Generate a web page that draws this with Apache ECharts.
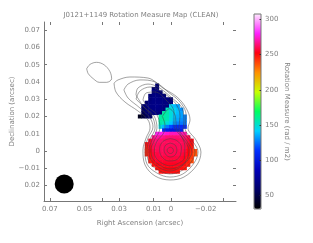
<!DOCTYPE html>
<html>
<head>
<meta charset="utf-8">
<style>html,body{margin:0;padding:0;background:#fff}#c{width:313px;height:243px}</style>
<script src="https://cdn.jsdelivr.net/npm/echarts@6/dist/echarts.min.js"></script>
</head>
<body>
<div id="c"></div>
<script>
var titleText = 'J0121+1149 Rotation Measure Map (CLEAN)';
var xTickValues = [0.07, 0.04, 0.03, 0.01, 0, -0.03];
var xLabelValues = [0.07, 0.05, 0.03, 0.01, 0, -0.02];
var xLabelTexts = ['0.07', '0.05', '0.03', '0.01', '0', '\u22120.02'];
var yTickValues = [0.07, 0.05, 0.03, 0.02, 0, -0.01, -0.02];
var yLabelValues = [0.07, 0.06, 0.05, 0.04, 0.03, 0.02, 0.01, 0, -0.01, -0.02];
var yLabelTexts = ['0.07', '0.06', '0.05', '0.04', '0.03', '0.02', '0.01', '0', '\u22120.01', '0.02'];
var barLabelValues = [50, 100, 150, 200, 250, 300];
var barTickValues = [50, 100, 150, 200, 250, 300];
var beam = [0.0617, -0.0191];
var blob = [[48.7,47.7],[46.8,50.2],[43,51.4],[38.7,50],[35.3,46.1],[34.3,41.9],[37.2,39.8],[41.4,39.8],[44.9,41.9],[47.8,44.8],[48.7,47.7]];
var level1 = [[32.9,39.4],[30.6,41.2],[23.7,42.9],[13.3,42.3],[4.6,36.5],[-3.5,31.3],[-8.7,24.9],[-11,18],[-9.8,13.3],[-14.4,6.4],[-17.3,-0.6],[-15,-8.1],[-7.5,-15.1],[0.6,-16.8],[9.2,-14.5],[15,-8.1],[16.2,0.6],[14.4,7.5],[12.1,13.3],[13.3,18],[19.1,23.2],[26.6,28.4],[31.8,34.2],[32.9,39.4]];
var level2 = [[27.2,35.4],[24.8,38.8],[17.9,41.2],[9.2,40],[1.7,34.2],[-5.2,28.4],[-8.7,20.9],[-8.1,13.3],[-12.1,6.4],[-15.6,-0.6],[-13.3,-7],[-6.9,-13.3],[0.6,-15.1],[8.1,-12.8],[13.9,-7.5],[15,0.6],[13.3,7.5],[10.4,13.9],[12.1,19.1],[17.9,24.9],[24.8,30.7],[27.2,35.4]];
var level3 = [[20.2,32.5],[19.1,36.5],[13.3,38.8],[7.5,37.1],[-0.6,30.7],[-6.4,24.9],[-7.5,16.8],[-6.9,12.2],[-11,5.8],[-13.9,-0.6],[-11.6,-6.4],[-5.8,-11.6],[0.6,-13.3],[7.5,-11],[12.7,-6.4],[13.9,0.6],[12.1,7],[9.2,13.3],[11,20.3],[16.2,26.1],[20.2,32.5]];
var level4 = [[20.2,30.1],[17.9,34.8],[12.1,37.1],[3.5,33],[-2.9,27.2],[-5.2,20.3],[-4.6,13.3],[-8.7,6.4],[-12.1,-0.6],[-9.8,-5.2],[-4.6,-9.9],[0.6,-11.6],[6.4,-9.9],[11.6,-5.2],[12.7,0.6],[11,6.4],[8.1,13.3],[9.8,20.3],[15,24.9],[20.2,30.1]];
var level5 = [[16.2,29.6],[14.4,33.6],[9.2,34.2],[2.9,29.6],[-1.7,22.6],[-1.7,15.1],[-7.5,6.4],[-10.4,0.6],[-8.7,-5.8],[-4,-9.3],[0.6,-10.4],[5.8,-8.7],[10.4,-4.6],[11.6,0.6],[9.8,5.8],[6.4,13.3],[8.1,20.9],[13.3,25.5],[16.2,29.6]];
var level6 = [[5,20],[1,24.5],[-2.6,20],[-3,14],[-5.5,9.5],[-8,3],[-7.8,-4],[-3.5,-7.5],[0.4,-8.6],[5,-7.2],[9,-3.5],[9.6,0.6],[8,5.8],[4.2,10.5],[3.5,15],[5,20]];
var level7 = [[0.4,7.2],[4.6,5.6],[6.6,1.4],[5.6,-3],[1.5,-5.8],[-2.8,-5.3],[-5.6,-2],[-6,2.4],[-3.4,6],[0.4,7.2]];
var level8 = [[0.4,4.6],[3.1,3.4],[4,0.6],[2.8,-2.3],[0.4,-3.5],[-2.2,-2.5],[-3.4,0.4],[-2.4,3.4],[0.4,4.6]];
var level9 = [[0.4,2.2],[1.9,1.4],[2.2,0.2],[1.6,-1],[0.3,-1.5],[-1,-0.9],[-1.4,0.4],[-0.9,1.6],[0.4,2.2]];
var contours = [blob, level1, level2, level3, level4, level5, level6, level7, level8, level9];
var _ = null;
var rmRa = [18, 16, 14, 12, 10, 8, 6, 4, 2, 0, -2, -4, -6, -8, -10, -12, -14];
var rmDec = [38, 36, 34, 32, 30, 28, 26, 24, 22, 20, 18, 16, 14, 12, 10, 8, 6, 4, 2, 0, -2, -4, -6, -8, -10, -12];
var rmValues = [
  [_,_,_,_,_,60,_,_,_,_,_,_,_,_,_,_,_],
  [_,_,_,_,62,62,_,_,_,_,_,_,_,_,_,_,_],
  [_,_,_,_,64,64,62,_,_,_,_,_,_,_,_,_,_],
  [_,_,_,62,66,66,64,62,_,_,_,_,_,_,_,_,_],
  [_,_,_,64,68,68,66,66,64,60,_,_,_,_,_,_,_],
  [_,_,60,66,68,68,68,66,66,62,_,_,_,_,_,_,_],
  [_,60,64,68,68,70,68,66,64,143,138,133,_,_,_,_,_],
  [_,56,62,66,68,68,68,64,153,148,143,138,130,_,_,_,_],
  [_,52,60,64,66,66,62,158,156,148,143,138,133,_,_,_,_],
  [38,46,54,58,_,_,158,158,155,148,140,136,133,128,_,_,_],
  [_,_,_,_,_,_,158,158,154,146,138,134,130,128,_,_,_],
  [_,_,_,_,_,_,156,154,148,140,133,128,126,126,_,_,_],
  [_,_,_,_,_,_,146,136,126,118,112,110,110,112,_,_,_],
  [_,_,_,_,_,_,_,108,102,100,100,102,104,_,_,_,_],
  [_,_,_,_,_,278,278,276,274,272,272,272,272,270,_,_,_],
  [_,_,_,_,266,270,268,266,264,264,264,264,264,264,260,_,_],
  [_,_,_,256,262,264,263,262,261,261,261,261,261,261,258,252,_],
  [_,_,250,256,261,262,261,261,261,261,261,261,261,260,256,250,_],
  [_,_,248,254,260,261,261,261,261,260,260,261,260,260,254,248,_],
  [_,_,246,252,258,260,261,261,260,260,260,260,260,258,252,246,238],
  [_,_,246,250,256,258,260,260,260,260,260,260,258,256,252,244,236],
  [_,_,_,250,256,258,258,258,258,258,258,258,256,254,250,242,_],
  [_,_,_,247,252,256,256,256,256,256,256,256,254,252,248,238,_],
  [_,_,_,_,249,252,254,254,254,254,254,254,252,250,246,_,_],
  [_,_,_,_,_,249,250,252,252,252,252,250,250,248,_,_,_],
  [_,_,_,_,_,_,249,250,250,250,250,249,_,_,_,_,_]
];
var raMin = -0.03755, raMax = 0.07337, decMin = -0.02899, decMax = 0.07478;
var barMin = 30, barMax = 308;
var barColors = ['#000000','#000068','#0000b8','#0030ff','#00d0ff','#00ff60','#c8ff00','#ff9000','#ff0010','#ff20ff','#ffe8ff'];
var inkColor = '#808080', lineColor = '#777777', fontName = 'DejaVu Sans';
var cells = [];
rmDec.forEach(function (d, i) {
  rmRa.forEach(function (r, j) {
    var v = rmValues[i][j];
    if (v !== null) cells.push([r / 1000, d / 1000, v]);
  });
});
function lookup(values, texts) {
  return function (v) {
    for (var i = 0; i < values.length; i++) if (Math.abs(values[i] - v) < 1e-6) return texts[i];
    return '';
  };
}
var series = [{
  type: 'scatter', xAxisIndex: 0, yAxisIndex: 0, data: cells,
  symbol: 'rect', symbolSize: 4, z: 2, silent: true, itemStyle: { opacity: 1 }
}];
contours.forEach(function (c) {
  series.push({
    type: 'line', xAxisIndex: 0, yAxisIndex: 0, z: 3, silent: true, showSymbol: false,
    smooth: 0.35, symbol: 'none',
    lineStyle: { color: '#444444', width: 0.5 },
    data: c.map(function (p) { return [p[0] / 1000, p[1] / 1000]; })
  });
});
series.push({
  type: 'scatter', xAxisIndex: 0, yAxisIndex: 0, z: 4, silent: true,
  data: [beam], symbol: 'circle', symbolSize: 19, itemStyle: { color: '#000000', opacity: 1 }
});
var chart = echarts.init(document.getElementById('c'), null, { renderer: 'canvas' });
chart.setOption({
  animation: false,
  backgroundColor: '#ffffff',
  title: {
    text: titleText, left: 141, top: 12, textAlign: 'center', padding: 0,
    textStyle: { color: inkColor, fontFamily: fontName, fontSize: 7, fontWeight: 'normal' }
  },
  grid: [
    { left: 44, top: 22, width: 192, height: 179, outerBoundsMode: 'none' },
    { left: 254, top: 14, width: 7, height: 195, outerBoundsMode: 'none', show: true, borderColor: lineColor, borderWidth: 1, backgroundColor: 'transparent', z: 8 }
  ],
  xAxis: [
    { type: 'value', gridIndex: 0, position: 'bottom', inverse: true, min: raMin, max: raMax, splitLine: { show: false },
      axisLine: { show: true, onZero: false, lineStyle: { color: lineColor, width: 1 } },
      axisTick: { show: true, inside: true, length: 3, customValues: xTickValues, lineStyle: { color: lineColor, width: 1 } },
      axisLabel: { show: true, customValues: xLabelValues, formatter: lookup(xLabelValues, xLabelTexts), margin: 5, color: inkColor, fontFamily: fontName, fontSize: 7 },
      name: 'Right Ascension (arcsec)', nameLocation: 'middle', nameGap: 19, nameMoveOverlap: false,
      nameTextStyle: { color: inkColor, fontFamily: fontName, fontSize: 7 } },
    { type: 'value', gridIndex: 0, position: 'top', inverse: true, min: raMin, max: raMax, splitLine: { show: false },
      axisLine: { show: false, onZero: false },
      axisTick: { show: true, inside: true, length: 3, customValues: xTickValues, lineStyle: { color: lineColor, width: 1 } },
      axisLabel: { show: false } },
    { type: 'value', gridIndex: 1, min: 0, max: 1, show: false }
  ],
  yAxis: [
    { type: 'value', gridIndex: 0, position: 'left', min: decMin, max: decMax, splitLine: { show: false },
      axisLine: { show: true, onZero: false, lineStyle: { color: lineColor, width: 1 } },
      axisTick: { show: true, inside: true, length: 3, customValues: yTickValues, lineStyle: { color: lineColor, width: 1 } },
      axisLabel: { show: true, customValues: yLabelValues, formatter: lookup(yLabelValues, yLabelTexts), margin: 4, color: inkColor, fontFamily: fontName, fontSize: 7 },
      name: 'Declination (arcsec)', nameLocation: 'middle', nameGap: 28, nameRotate: 90, nameMoveOverlap: false,
      nameTextStyle: { color: inkColor, fontFamily: fontName, fontSize: 7 } },
    { type: 'value', gridIndex: 0, position: 'right', min: decMin, max: decMax, splitLine: { show: false },
      axisLine: { show: false, onZero: false },
      axisTick: { show: true, inside: true, length: 3, customValues: yTickValues, lineStyle: { color: lineColor, width: 1 } },
      axisLabel: { show: false } },
    { type: 'value', gridIndex: 1, position: 'right', min: barMin, max: barMax, z: 9, splitLine: { show: false },
      axisLine: { show: false, onZero: false },
      axisTick: { show: true, inside: true, length: 1.5, customValues: barTickValues, lineStyle: { color: '#333333', width: 1 } },
      axisLabel: { show: true, customValues: barLabelValues, margin: 4, color: inkColor, fontFamily: fontName, fontSize: 7 },
      name: 'Rotation Measure (rad / m2)', nameLocation: 'middle', nameGap: 22, nameRotate: -90, nameMoveOverlap: false,
      nameTextStyle: { color: inkColor, fontFamily: fontName, fontSize: 7 } }
  ],
  visualMap: [{
    type: 'continuous', seriesIndex: 0, dimension: 2, min: barMin, max: barMax,
    left: 254, top: 14, itemWidth: 7, itemHeight: 195, padding: 0, text: null,
    calculable: false, hoverLink: false, showLabel: false,
    inRange: { color: barColors }
  }],
  series: series
});
</script>
</body>
</html>
